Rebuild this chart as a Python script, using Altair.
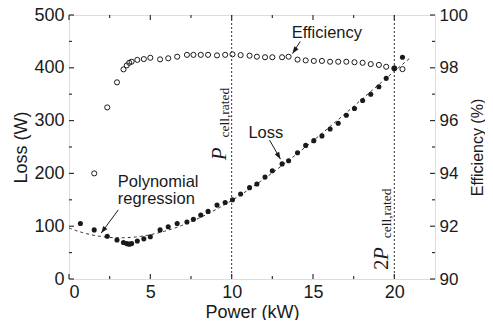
import altair as alt
import pandas as pd

# ---------------- data ----------------
power = [0.7, 1.55, 2.35, 2.95, 3.35, 3.55, 3.7, 3.85, 4.2, 4.6, 5.0, 5.6, 6.1, 6.65,
         7.25, 7.65, 8.1, 8.55, 9.1, 9.6, 10.05, 10.55, 11.1, 11.55, 12.05, 12.5, 13.1,
         13.5, 14.05, 14.55, 15.05, 15.55, 16.05, 16.55, 17.05, 17.55, 18.05, 18.55,
         19.05, 19.5, 20.0, 20.5]
loss = [105, 93, 81, 74, 69, 67, 66, 67, 72, 76, 80, 93, 99, 105, 108, 113, 121, 128,
        140, 145, 150, 161, 173, 180, 193, 205, 218, 224, 239, 253, 262, 271, 284, 295,
        310, 323, 338, 350, 364, 380, 399, 420]
eff_power = power[1:]
efficiency = [94.0, 96.5, 97.45, 97.94, 98.09, 98.19, 98.23, 98.3, 98.33, 98.38, 98.32,
              98.36, 98.42, 98.49, 98.49, 98.49, 98.49, 98.47, 98.49, 98.51, 98.48, 98.46,
              98.42, 98.40, 98.40, 98.40, 98.42, 98.31, 98.28, 98.26, 98.26, 98.23, 98.23,
              98.23, 98.21, 98.19, 98.14, 98.11, 98.04, 97.98, 97.95]
rated_power = [10, 20]

x_major = [0, 5, 10, 15, 20]
x_minor = [2.5, 7.5, 12.5, 17.5]
loss_major = [0, 100, 200, 300, 400, 500]
loss_minor = [50, 150, 250, 350, 450]
eff_major = [90, 92, 94, 96, 98, 100]
eff_minor = [91, 93, 95, 97, 99]

W, H = 366, 264
FONT = "Liberation Sans"
SERIF = "Liberation Serif"
INK = "#1a1a1a"
AX = "#333333"

xs = alt.Scale(domain=[0, 22.5], nice=False, zero=False)
ls = alt.Scale(domain=[0, 500], nice=False)
es = alt.Scale(domain=[90, 100], nice=False, zero=False)

loss_df = pd.DataFrame({"power": power, "loss": loss})
eff_df = pd.DataFrame({"power": eff_power, "eff": efficiency})
one = alt.Data(values=[{}])

axis_common = dict(tickSize=0, domain=False, grid=False, labelFont=FONT, labelFontSize=18,
                   labelColor=INK, titleFont=FONT, titleFontSize=18, titleFontWeight="normal",
                   titleColor=INK)

# --------------- loss side ---------------
reg = alt.Chart(loss_df).transform_regression(
    "power", "loss", method="poly", order=3, extent=[0, 21]
).mark_line(strokeDash=[3, 3], strokeWidth=1, color=AX).encode(
    x=alt.X("power:Q", scale=xs),
    y=alt.Y("loss:Q", scale=ls),
)

loss_pts = alt.Chart(loss_df).mark_circle(size=26, color=INK, opacity=1).encode(
    x=alt.X("power:Q", scale=xs,
            axis=alt.Axis(title="Power (kW)", values=x_major, labelPadding=4,
                          titlePadding=2, **axis_common)),
    y=alt.Y("loss:Q", scale=ls,
            axis=alt.Axis(title="Loss (W)", values=loss_major, orient="left",
                          labelPadding=5, titlePadding=3, **axis_common)),
)

rated = alt.Chart(pd.DataFrame({"power": rated_power})).mark_rule(
    strokeDash=[2, 2], strokeWidth=1, color=AX
).encode(x=alt.X("power:Q", scale=xs))


def xticks(vals, length):
    df = pd.DataFrame({"power": vals})
    bot = alt.Chart(df).mark_rule(color=AX, strokeWidth=1.2).encode(
        x=alt.X("power:Q", scale=xs), y=alt.value(H), y2=alt.value(H - length))
    top = alt.Chart(df).mark_rule(color=AX, strokeWidth=1.2).encode(
        x=alt.X("power:Q", scale=xs), y=alt.value(0), y2=alt.value(length))
    return [bot, top]


def lticks(vals, length):
    df = pd.DataFrame({"loss": vals})
    return alt.Chart(df).mark_rule(color=AX, strokeWidth=1.2).encode(
        y=alt.Y("loss:Q", scale=ls), x=alt.value(0), x2=alt.value(length))


def eticks(vals, length):
    df = pd.DataFrame({"eff": vals})
    return alt.Chart(df).mark_rule(color=AX, strokeWidth=1.2).encode(
        y=alt.Y("eff:Q", scale=es), x=alt.value(W), x2=alt.value(W - length))


def text(txt, x, y, size=16.5, **kw):
    return alt.Chart(one).mark_text(text=txt, font=FONT, fontSize=size, color=INK, **kw).encode(
        x=alt.X(datum=x, scale=xs), y=alt.Y(datum=y, scale=ls))


def arrow(x1, y1, x2, y2, ang):
    line = alt.Chart(one).mark_rule(color=INK, strokeWidth=1).encode(
        x=alt.X(datum=x1, scale=xs), y=alt.Y(datum=y1, scale=ls),
        x2=alt.X2(datum=x2), y2=alt.Y2(datum=y2))
    head = alt.Chart(one).mark_point(shape="M0,0L-0.36,1L0.36,1Z", size=196, filled=True,
                                     color=INK, opacity=1, angle=ang).encode(
        x=alt.X(datum=x2, scale=xs), y=alt.Y(datum=y2, scale=ls))
    return [line, head]


def rot(txt, x, y, size, font=SERIF, style="italic"):
    return alt.Chart(one).mark_text(text=txt, font=font, fontSize=size, fontStyle=style,
                                    color=INK, angle=270, align="left",
                                    baseline="alphabetic").encode(
        x=alt.X(datum=x, scale=xs), y=alt.Y(datum=y, scale=ls))


annotations = [
    text("Efficiency", 15.85, 466, baseline="middle"),
    text("Loss", 12.1, 276, baseline="middle"),
    text("Polynomial", 3.0, 184, baseline="middle", align="left"),
    text("regression", 3.0, 151, baseline="middle", align="left"),
    *arrow(14.22, 450, 13.74, 427, 214),
    *arrow(12.33, 263, 13.0, 227, 150),
    *arrow(3.03, 131, 1.98, 87, 216),
    rot("P", 9.66, 225, 21),
    rot("cell,rated", 9.86, 268, 13.5, style="normal"),
    rot("2", 19.6, 17, 21, style="normal"),
    rot("P", 19.6, 36, 21),
    rot("cell,rated", 19.79, 77, 13.5, style="normal"),
]

loss_layer = alt.layer(
    rated, reg, *xticks(x_major, 5), *xticks(x_minor, 3),
    lticks(loss_major, 5), lticks(loss_minor, 3),
    loss_pts, *annotations,
)

# --------------- efficiency side ---------------
eff_pts = alt.Chart(eff_df).mark_point(shape="circle", filled=False, size=26, strokeWidth=1,
                                        color=INK, opacity=1).encode(
    x=alt.X("power:Q", scale=xs),
    y=alt.Y("eff:Q", scale=es,
            axis=alt.Axis(title="Efficiency (%)", values=eff_major, orient="right",
                          labelPadding=4, labelFontSize=17, titleFontSize=16,
                          titlePadding=2, titleAngle=270, titleBaseline="top",
                          **{k: v for k, v in axis_common.items()
                             if k not in ("labelFontSize", "titleFontSize")})),
)
eff_layer = alt.layer(eticks(eff_major, 5), eticks(eff_minor, 3), eff_pts)

chart = alt.layer(eff_layer, loss_layer).resolve_scale(y="independent").properties(
    width=W, height=H,
    autosize=alt.AutoSizeParams(type="none"),
    padding={"left": 61, "top": 7, "right": 50, "bottom": 41},
).configure_view(stroke=AX, strokeWidth=1.5).configure(background="white")

chart.save("out.html", embed_options={"renderer": "svg", "actions": False})
